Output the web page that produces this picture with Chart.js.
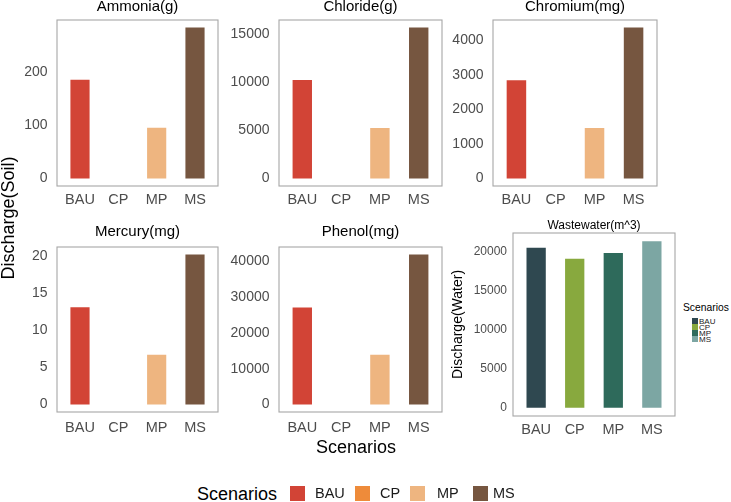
<!DOCTYPE html>
<html>
<head>
<meta charset="utf-8">
<script src="https://cdn.jsdelivr.net/npm/chart.js@4.4.1/dist/chart.umd.min.js"></script>
<style>
  body { margin: 0; background: #fff; width: 731px; height: 502px; position: relative; overflow: hidden;
         font-family: "Liberation Sans", Arial, sans-serif; }
  canvas { position: absolute; }
  .t { position: absolute; white-space: nowrap; line-height: 1; color: #000; }
  .sw { position: absolute; }
</style>
</head>
<body>
<div id="stage"></div>
<script>
// scenario categories and discharge values
const SCENARIOS = ['BAU', 'CP', 'MP', 'MS'];
const AMMONIA = [185, 0, 95, 283];
const CHLORIDE = [10250, 0, 5250, 15700];
const CHROMIUM = [2850, 0, 1465, 4380];
const MERCURY = [13.1, 0, 6.7, 20.2];
const PHENOL = [27100, 0, 13900, 41900];
const WASTEWATER = [20560, 19150, 19870, 21380];

const AMMONIA_TICKS = [0, 100, 200];
const CHLORIDE_TICKS = [0, 5000, 10000, 15000];
const CHROMIUM_TICKS = [0, 1000, 2000, 3000, 4000];
const MERCURY_TICKS = [0, 5, 10, 15, 20];
const PHENOL_TICKS = [0, 10000, 20000, 30000, 40000];
const WASTEWATER_TICKS = [0, 5000, 10000, 15000, 20000];

const SOIL_COLORS = ['#D24436', '#EE8B3A', '#EEB580', '#765640'];
const WATER_COLORS = ['#2F4850', '#88A93E', '#2E6A5B', '#7CA6A3'];

const TICK_COLOR = '#4D4D4D';
Chart.defaults.font.family = '"Liberation Sans", Arial, sans-serif';

// ggplot style panel border, a little wider than the category area (0.6 expand)
const panelBox = {
  id: 'panelBox',
  afterDraw(chart, args, opts) {
    const { ctx, chartArea: a } = chart;
    ctx.save();
    ctx.strokeStyle = '#A6A6A6';
    ctx.lineWidth = 1.1;
    ctx.strokeRect(a.left - opts.inset, a.top, a.right - a.left + 2 * opts.inset, a.bottom - a.top);
    ctx.restore();
  },
};

function makePanel(p) {
  const boxW = p.box.r - p.box.l;
  const inset = boxW / 42;
  const areaW = boxW - 2 * inset;
  const titleLH = p.titleSize * 1.2;
  const yTitleLH = p.yTitle ? p.yTitleSize * 1.2 : 0;
  const left = Math.round(p.yTitle ? p.yTitleX - yTitleLH / 2 : p.box.l - 52);
  const top = Math.round(p.titleY - titleLH / 2);
  const yW = p.box.l + inset - left;
  const xH = 30;
  const w = Math.ceil(yW + areaW + inset + 3);
  const padR = w - yW - areaW;
  const h = Math.round(p.box.b - top + xH);
  const xLH = p.xSize * 1.2;

  const canvas = document.createElement('canvas');
  canvas.width = w;
  canvas.height = h;
  canvas.style.left = left + 'px';
  canvas.style.top = top + 'px';
  canvas.style.width = w + 'px';
  canvas.style.height = h + 'px';
  document.getElementById('stage').appendChild(canvas);

  const vmax = Math.max(...p.values);

  return new Chart(canvas, {
    type: 'bar',
    data: {
      labels: SCENARIOS,
      datasets: [{
        data: p.values,
        backgroundColor: p.colors,
        borderWidth: 0,
        barPercentage: 0.5,
        categoryPercentage: 1,
      }],
    },
    plugins: [panelBox],
    options: {
      responsive: false,
      animation: false,
      devicePixelRatio: 1,
      layout: { padding: { left: 0, top: 0, right: padR, bottom: 0 } },
      plugins: {
        legend: { display: false },
        tooltip: { enabled: false },
        panelBox: { inset },
        title: {
          display: true,
          fullSize: false,
          text: p.title,
          color: '#000',
          font: { size: p.titleSize, weight: 'normal' },
          padding: { top: 0, bottom: p.box.t - top - titleLH },
        },
      },
      scales: {
        x: {
          grid: { display: false, drawTicks: false },
          border: { display: false },
          ticks: {
            color: TICK_COLOR,
            font: { size: p.xSize },
            padding: p.xLabelOff - xLH / 2,
            maxRotation: 0,
          },
          afterFit(s) {
            s.height = xH;
            s.paddingLeft = 0;
            s.paddingRight = 0;
          },
        },
        y: {
          min: -0.05 * vmax,
          max: 1.05 * vmax,
          grid: { display: false, drawTicks: false },
          border: { display: false },
          ticks: {
            color: TICK_COLOR,
            font: { size: p.ySize },
            padding: p.yGap + inset,
            callback: (v) => String(v),
          },
          title: p.yTitle ? {
            display: true,
            text: p.yTitle,
            color: '#000',
            font: { size: p.yTitleSize },
            padding: 0,
          } : { display: false },
          afterBuildTicks(s) {
            s.ticks = p.ticks.map((v) => ({ value: v }));
          },
          afterFit(s) {
            s.width = yW;
            s.paddingTop = 0;
            s.paddingBottom = 0;
          },
        },
      },
    },
  });
}

const soil = { colors: SOIL_COLORS, titleSize: 15, xSize: 14.5, ySize: 14, yGap: 9.5 };

makePanel({ ...soil, title: 'Ammonia(g)', values: AMMONIA, ticks: AMMONIA_TICKS,
  box: { l: 57, t: 20, r: 218, b: 186 }, titleY: 7, xLabelOff: 14 });
makePanel({ ...soil, title: 'Chloride(g)', values: CHLORIDE, ticks: CHLORIDE_TICKS,
  box: { l: 279, t: 20, r: 442, b: 186 }, titleY: 7, xLabelOff: 14 });
makePanel({ ...soil, title: 'Chromium(mg)', values: CHROMIUM, ticks: CHROMIUM_TICKS,
  box: { l: 493, t: 20, r: 657, b: 186 }, titleY: 7, xLabelOff: 14 });
makePanel({ ...soil, title: 'Mercury(mg)', values: MERCURY, ticks: MERCURY_TICKS,
  box: { l: 57, t: 247, r: 218, b: 412 }, titleY: 232, xLabelOff: 15.5 });
makePanel({ ...soil, title: 'Phenol(mg)', values: PHENOL, ticks: PHENOL_TICKS,
  box: { l: 279, t: 247, r: 442, b: 412 }, titleY: 232, xLabelOff: 15.5 });
makePanel({ title: 'Wastewater(m^3)', values: WASTEWATER, ticks: WASTEWATER_TICKS, colors: WATER_COLORS,
  box: { l: 513, t: 233, r: 675, b: 416 }, titleY: 225, titleSize: 12,
  xSize: 14.5, xLabelOff: 14, ySize: 12, yGap: 6,
  yTitle: 'Discharge(Water)', yTitleSize: 14, yTitleX: 458.5 });

// shared titles and legends
const stage = document.getElementById('stage');
function text(str, x, y, size, extra) {
  const d = document.createElement('div');
  d.className = 't';
  d.textContent = str;
  d.style.left = x + 'px';
  d.style.top = y + 'px';
  d.style.fontSize = size + 'px';
  if (extra) Object.assign(d.style, extra);
  stage.appendChild(d);
  return d;
}
function swatch(x, y, w, h, color) {
  const d = document.createElement('div');
  d.className = 'sw';
  Object.assign(d.style, { left: x + 'px', top: y + 'px', width: w + 'px', height: h + 'px', background: color });
  stage.appendChild(d);
}

text('Discharge(Soil)', 8.3 - 100, 218 - 9, 18,
  { width: '200px', height: '18px', textAlign: 'center', transform: 'rotate(-90deg)' });
text('Scenarios', 356 - 100, 438, 18, { width: '200px', textAlign: 'center' });

// bottom legend
text('Scenarios', 197, 484.8, 18);
const LEG_SWATCH_X = [290, 355, 410, 473];
const LEG_TEXT_X = [315, 380, 437, 493];
SCENARIOS.forEach((s, i) => {
  swatch(LEG_SWATCH_X[i], 486, 15, 15, SOIL_COLORS[i]);
  text(s, LEG_TEXT_X[i], 486.2, 14.5, { color: '#1A1A1A' });
});

// wastewater legend
text('Scenarios', 683, 302.5, 10.3);
SCENARIOS.forEach((s, i) => {
  swatch(691.5, 317.5 + i * 6.2, 6, 6.2, WATER_COLORS[i]);
  text(s, 699, 317.8 + i * 6.2, 8, { color: '#1A1A1A' });
});
</script>
</body>
</html>
